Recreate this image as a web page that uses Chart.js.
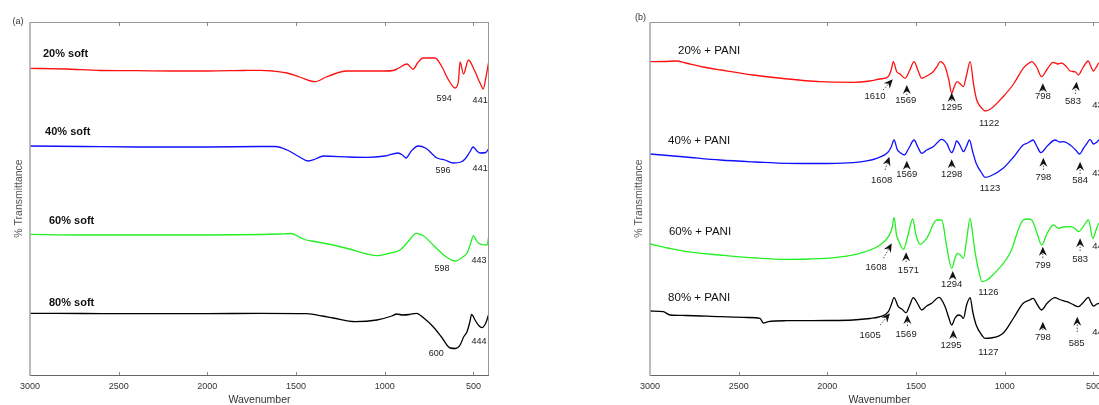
<!DOCTYPE html>
<html>
<head>
<meta charset="utf-8">
<script src="https://cdn.jsdelivr.net/npm/chart.js@4.4.1/dist/chart.umd.min.js"></script>
<style>
  html, body { margin: 0; padding: 0; background: #fff; }
  body { width: 1099px; height: 405px; overflow: hidden; position: relative; }
  .panel { position: absolute; top: 0; width: 500px; height: 405px; }
  #panel-a { left: 0; }
  #panel-b { left: 620px; }
</style>
</head>
<body>
<div class="panel" id="panel-a"><canvas id="chart-a"></canvas></div>
<div class="panel" id="panel-b"><canvas id="chart-b"></canvas></div>
<script>
// tick labels on the wavenumber axis
const xTicks = [3000, 2500, 2000, 1500, 1000, 500];

// (a) soft ferrite spectra: wavenumber / % transmittance (offset, a.u.)
const softWn20 = [3000,2800,2600,2400,2200,2000,1800,1700,1630,1550,1480,1393,1330,1250,1212,1100,1000,953,920,874,840,815,784,716,680,640,603,585,575,556,528,495,460,445,430,412];
const softT20  = [306.7,306,304.5,304.3,304,304,304.5,304.7,304,302,298,293.3,298,303,304,304,304,304.5,307,311,305.7,312,317,317,309,295,287,293,313,301,315,305,291,286,297,315];
const softWn40 = [3000,2700,2400,2000,1700,1618,1550,1480,1432,1390,1347,1200,1100,1000,925,900,880,850,812,770,705,660,614,570,547,520,502,480,462,430,412];
const softT40  = [229,228.5,228,228,228.5,228.5,225,218,214,216,219,218,217.7,219,222,220,217,224,229,227,217,215,212,213,216,223,228,224,222,222.5,227];
const softWn60 = [3000,2700,2400,2000,1700,1600,1530,1490,1460,1380,1291,1200,1100,1044,980,914,870,821,780,727,660,603,560,536,515,500,485,472,423,412];
const softT60  = [140.7,140,140,140,140.5,141,141.5,139,136,133,130,126,121,119.3,121.5,125,133,141.7,139,130,119,114,118,122,132,139.3,135,132,130,140.3];
const softWn80 = [3000,2700,2400,2000,1700,1440,1350,1291,1167,1044,960,932,900,860,821,780,727,680,631,600,575,555,536,520,510,491,470,452,430,412];
const softT80  = [61.7,61.5,61.3,61.3,61.7,61.3,59,57,53.3,55,59,61,60,60.5,61.7,57,48.3,38,27,26.5,30,38,43.3,53,60.7,55,49.5,47.3,52,61.7];

// (b) ferrite + PANI spectra
const paniWn20 = [3000,2920,2850,2800,2700,2600,2419,2250,2041,1855,1760,1703,1658,1640,1628,1609,1590,1561,1535,1511,1490,1468,1440,1403,1380,1365,1336,1315,1299,1285,1268,1250,1233,1215,1195,1175,1158,1130,1111,1080,1009,950,896,870,848,820,792,760,727,700,680,655,631,600,585,560,529,515,500,480,468,440,412];
const paniT20  = [313.3,313.5,314,312,308,305,300,296.5,293.3,292.7,294,296,298.3,305,313.3,303.3,301,296.7,305,313.3,305,296.7,299,303.3,309,313.3,308.3,295,281.7,288,293.3,291,288.3,300,313.3,290,275,267,264,266,278.3,291,306.7,311,313.3,308,298.3,306,312.7,311,312,309,304,303,300,307,314,309,304,309,312,297,313];
const paniWn40 = [3000,2800,2605,2400,2229,2000,1855,1722,1656,1640,1624,1605,1595,1566,1540,1511,1490,1468,1440,1403,1355,1327,1299,1285,1271,1250,1233,1215,1199,1180,1161,1130,1111,1080,1009,950,896,870,840,820,796,760,716,690,669,631,600,579,555,536,519,500,480,468,440,412];
const paniT40  = [221,218,215,213,211.7,211.5,212.3,216.7,223.3,228,235,225,223.3,220,227,235,228,221.7,225,228.3,235.7,231.7,222.3,227,234,229,223.3,229,235,223,211.7,202,197.7,199,206.7,218,230,232,235,229,222.3,229,235,233,233.3,230,225,221,227,231.7,235.7,231,233,235,225,233];
const paniWn60 = [3000,2900,2793,2605,2400,2229,2100,1947,1816,1703,1656,1635,1624,1610,1600,1571,1545,1519,1500,1477,1440,1383,1355,1327,1299,1280,1267,1250,1233,1215,1195,1180,1166,1145,1129,1100,1067,970,896,870,848,820,792,760,725,697,670,631,600,583,555,528,503,485,468,440,412];
const paniT60  = [131,127,123.3,120,117,115.7,116,117.7,121.7,130,138.3,147,157.7,140,135,125.7,140,156,140,130.7,136.7,155,155,128.3,106.7,117,121.7,120,116.7,135,156.7,140,121.7,103,93.3,95,100,121.7,155,156,155,143,130,142,150,146.7,148,148.3,146,143.3,149,155,136.7,145,151.7,135,147];
const paniWn80 = [3000,2925,2887,2800,2605,2450,2380,2361,2333,2229,2000,1855,1760,1703,1656,1640,1624,1600,1580,1556,1535,1516,1490,1468,1440,1412,1370,1336,1315,1299,1280,1261,1245,1233,1215,1195,1180,1161,1130,1111,1080,1009,950,896,860,840,815,792,760,716,690,650,620,585,560,528,515,500,480,468,440,412];
const paniT80  = [64,63.3,60,59.5,58.3,57.5,56.7,52,53.3,54.3,54.5,55,56.5,58.3,63.3,70,77.3,68.3,66,62.3,70,77.3,71,65,69,71.7,77.7,68.3,57,50,57,60,59,56.7,70,77.3,63,50,40,36.7,37,41.7,57,71.7,75,76.7,70,65,72,77.3,75.5,73.3,71,68.3,72,77.7,73,69,71,71.7,63,70];

const softNames = ['20% soft', '40% soft', '60% soft', '80% soft'];
const paniNames = ['20% + PANI', '40% + PANI', '60% + PANI', '80% + PANI'];
const colors = ['#ff1010', '#1010ff', '#22f022', '#000000'];

// label placement, in data units (wavenumber, transmittance)
const softNameAt = [[2927, 321], [2915, 243], [2893, 154], [2893, 72.3]];
const paniNameAt = [[2842, 324.3], [2898, 234.3], [2893, 143.3], [2898, 76.7]];

const softNotes = [
  { text: '594', at: [665, 276] }, { text: '441', at: [462, 274] },
  { text: '596', at: [671, 204] }, { text: '441', at: [462, 206] },
  { text: '598', at: [677, 106] }, { text: '443', at: [468, 114.3] },
  { text: '600', at: [710, 21] },  { text: '444', at: [468, 33.3] },
];

const paniNotes = [
  { text: '1610', at: [1731, 279],   head: [1631, 295.7], tail: [1686, 285] },
  { text: '1569', at: [1558, 275],   head: [1552, 290],   tail: [1552, 280] },
  { text: '1295', at: [1299, 267.7], head: [1299, 282.3], tail: [1299, 274] },
  { text: '1122', at: [1088, 251.7] },
  { text: '798',  at: [785, 278.3],  head: [785, 291.7],  tail: [785, 284] },
  { text: '583',  at: [615, 273.3],  head: [594, 293.3],  tail: [602, 281] },
  { text: '438',  at: [462, 270] },

  { text: '1608', at: [1694, 195],   head: [1650, 218.3], tail: [1675, 205] },
  { text: '1569', at: [1552, 201],   head: [1552, 214.3], tail: [1552, 207] },
  { text: '1298', at: [1299, 201],   head: [1299, 215.7], tail: [1299, 208] },
  { text: '1123', at: [1083, 186.7] },
  { text: '798',  at: [782, 197.3],  head: [782, 217.3],  tail: [782, 205] },
  { text: '584',  at: [575, 195],    head: [575, 213.3],  tail: [575, 201] },
  { text: '437',  at: [462, 201.7] },

  { text: '1608', at: [1725, 107.3], head: [1637, 131.7], tail: [1684, 116.7] },
  { text: '1571', at: [1543, 105],   head: [1556, 122.7], tail: [1556, 113] },
  { text: '1294', at: [1299, 90.7],  head: [1293, 104],   tail: [1293, 97] },
  { text: '1126', at: [1092, 82.7] },
  { text: '799',  at: [785, 110],    head: [785, 128.3],  tail: [785, 117] },
  { text: '583',  at: [575, 115.7],  head: [575, 136.7],  tail: [575, 124] },
  { text: '440',  at: [462, 128.3] },

  { text: '1605', at: [1759, 40],    head: [1647, 61.7],  tail: [1703, 50] },
  { text: '1569', at: [1556, 40.7],  head: [1549, 60],    tail: [1549, 49] },
  { text: '1295', at: [1303, 29.3],  head: [1290, 45],    tail: [1290, 37] },
  { text: '1127', at: [1092, 22.3] },
  { text: '798',  at: [785, 37.7],   head: [785, 53.3],   tail: [785, 45] },
  { text: '585',  at: [594, 31.7],   head: [591, 58.3],   tail: [591, 43] },
  { text: '441',  at: [462, 42.7] },
];

Chart.defaults.font.family = "'Liberation Sans', Arial, sans-serif";

function series(wn, t) {
  return wn.map((w, i) => ({ x: w, y: t[i] }));
}

function arrow(ctx, x, y, head, tail) {
  const hx = x.getPixelForValue(head[0]), hy = y.getPixelForValue(head[1]);
  const tx = x.getPixelForValue(tail[0]), ty = y.getPixelForValue(tail[1]);
  const len = Math.hypot(hx - tx, hy - ty) || 1;
  const dx = (hx - tx) / len, dy = (hy - ty) / len;
  const nx = -dy, ny = dx;
  const bx = hx - dx * 9, by = hy - dy * 9;
  const mx = hx - dx * 6, my = hy - dy * 6;

  ctx.setLineDash([1.5, 1.5]);
  ctx.lineWidth = 0.8;
  ctx.strokeStyle = '#222';
  ctx.beginPath();
  ctx.moveTo(tx, ty);
  ctx.lineTo(mx, my);
  ctx.stroke();
  ctx.setLineDash([]);

  ctx.fillStyle = '#111';
  ctx.beginPath();
  ctx.moveTo(hx, hy);
  ctx.lineTo(bx + nx * 4, by + ny * 4);
  ctx.lineTo(mx, my);
  ctx.lineTo(bx - nx * 4, by - ny * 4);
  ctx.closePath();
  ctx.fill();
}

const frame = {
  id: 'frame',
  afterDatasetsDraw(chart, args, opts) {
    const { ctx, chartArea: a, scales: { x, y } } = chart;
    ctx.save();

    // box round the plot
    ctx.lineWidth = 1;
    ctx.strokeStyle = '#999';
    ctx.beginPath();
    ctx.moveTo(a.left, a.top + 0.5); ctx.lineTo(a.right, a.top + 0.5);
    ctx.moveTo(a.right - 0.5, a.top); ctx.lineTo(a.right - 0.5, a.bottom);
    ctx.stroke();
    ctx.strokeStyle = '#666';
    ctx.beginPath();
    ctx.moveTo(a.left, a.bottom + 0.5); ctx.lineTo(a.right, a.bottom + 0.5);
    ctx.stroke();
    ctx.lineWidth = 1.6;
    ctx.strokeStyle = '#aaa';
    ctx.beginPath();
    ctx.moveTo(a.left, a.top); ctx.lineTo(a.left, a.bottom + 1);
    ctx.stroke();

    // inward tick marks, top and bottom
    ctx.lineWidth = 1;
    ctx.strokeStyle = '#888';
    ctx.beginPath();
    xTicks.forEach(v => {
      const px = Math.round(x.getPixelForValue(v)) + 0.5;
      if (px <= a.left + 2) return;
      ctx.moveTo(px, a.bottom); ctx.lineTo(px, a.bottom - 3);
      ctx.moveTo(px, a.top); ctx.lineTo(px, a.top + 4);
    });
    ctx.stroke();

    // panel tag
    ctx.fillStyle = '#333';
    ctx.font = "9px 'Liberation Sans', Arial, sans-serif";
    ctx.textAlign = 'center';
    ctx.textBaseline = 'middle';
    ctx.fillText(opts.tag, a.left + opts.tagAt[0], a.top + opts.tagAt[1]);

    // series names
    ctx.textAlign = 'left';
    ctx.fillStyle = '#111';
    ctx.font = opts.nameFont;
    opts.names.forEach((n, i) => {
      const p = opts.nameAt[i];
      ctx.fillText(n, x.getPixelForValue(p[0]), y.getPixelForValue(p[1]));
    });

    // peak labels and arrows
    ctx.textAlign = 'center';
    opts.notes.forEach(n => {
      if (n.head) arrow(ctx, x, y, n.head, n.tail);
      ctx.fillStyle = '#222';
      ctx.font = opts.noteFont;
      ctx.fillText(n.text, x.getPixelForValue(n.at[0]), y.getPixelForValue(n.at[1]));
    });

    ctx.restore();
  }
};

function buildPanel(id, wns, ts, frameOpts) {
  const ctx = document.getElementById(id)?.getContext('2d');
  if (!ctx) return null;

  return new Chart(ctx, {
    type: 'line',
    data: {
      datasets: wns.map((wn, i) => ({
        data: series(wn, ts[i]),
        borderColor: colors[i],
        borderWidth: 1.3,
        pointRadius: 0,
        cubicInterpolationMode: 'monotone',
      }))
    },
    options: {
      animation: false,
      responsive: true,
      maintainAspectRatio: false,
      layout: { padding: { top: 22, right: 11, left: 0, bottom: 0 } },
      plugins: {
        legend: { display: false },
        tooltip: { enabled: false },
        frame: frameOpts,
      },
      scales: {
        x: {
          type: 'linear',
          reverse: true,
          min: 412,
          max: 3000,
          afterBuildTicks: (axis) => { axis.ticks = xTicks.map(v => ({ value: v })); },
          afterFit: (axis) => { axis.height = 30; },
          grid: { display: false, drawTicks: false, tickLength: 0 },
          border: { display: false },
          ticks: {
            padding: 6, maxRotation: 0, autoSkip: false, color: '#333', font: { size: 9 },
            callback: (v) => String(v),
          },
          title: { display: true, text: 'Wavenumber', color: '#333', font: { size: 10.5, lineHeight: 1 }, padding: 0 },
        },
        y: {
          min: 0,
          max: 353,
          afterFit: (axis) => { axis.width = 30; },
          grid: { display: false },
          border: { display: false },
          ticks: { display: false },
          title: { display: true, text: '% Transmittance', color: '#555', font: { size: 10.5, lineHeight: 1 }, padding: { top: 14, bottom: 0 } },
        }
      }
    },
    plugins: [frame]
  });
}

buildPanel('chart-a',
  [softWn20, softWn40, softWn60, softWn80],
  [softT20, softT40, softT60, softT80],
  {
    tag: '(a)', tagAt: [-12, -0.5],
    names: softNames, nameAt: softNameAt,
    nameFont: "bold 11px 'Liberation Sans', Arial, sans-serif",
    notes: softNotes,
    noteFont: "9px 'Liberation Sans', Arial, sans-serif",
  });

buildPanel('chart-b',
  [paniWn20, paniWn40, paniWn60, paniWn80],
  [paniT20, paniT40, paniT60, paniT80],
  {
    tag: '(b)', tagAt: [-9.5, -4.5],
    names: paniNames, nameAt: paniNameAt,
    nameFont: "11.5px 'Liberation Sans', Arial, sans-serif",
    notes: paniNotes,
    noteFont: "9.5px 'Liberation Sans', Arial, sans-serif",
  });
</script>
</body>
</html>
